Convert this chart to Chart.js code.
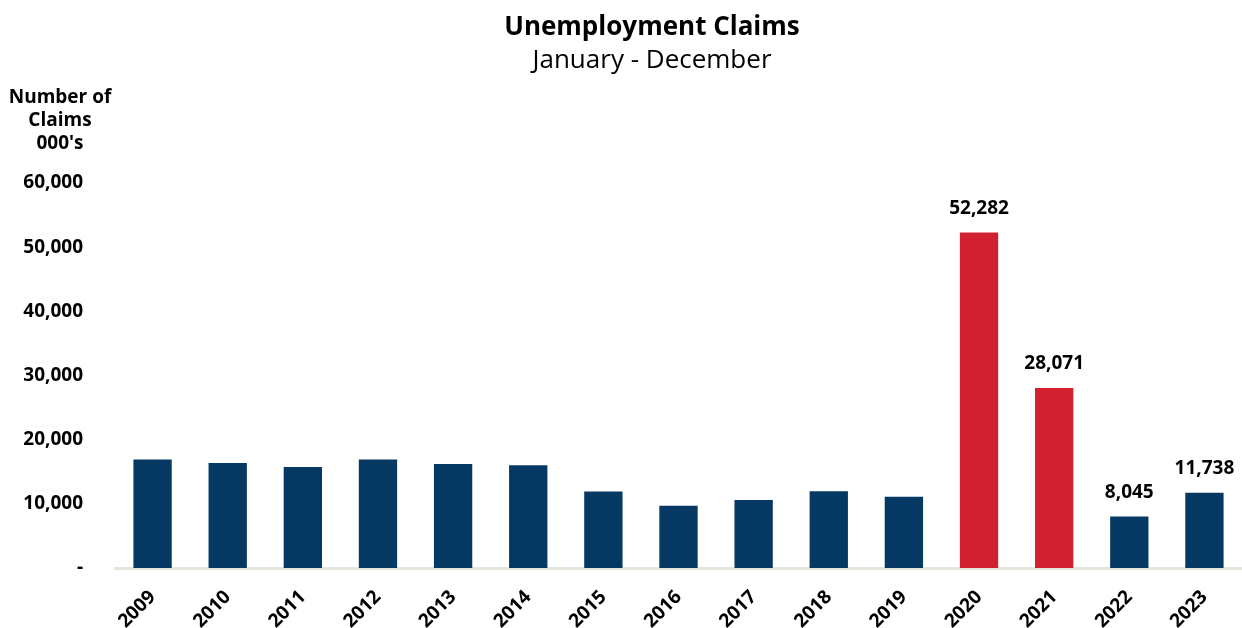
<!DOCTYPE html>
<html lang="en">
<head>
  <meta charset="UTF-8">
  <title>Unemployment Claims</title>
  <script src="https://cdn.jsdelivr.net/npm/chart.js@4.4.0/dist/chart.umd.min.js"></script>
  <style>
    html, body { margin: 0; padding: 0; background: #ffffff; }
    #wrap { width: 1242px; height: 628px; }
  </style>
</head>
<body>
  <div id="wrap">
    <canvas id="claimsChart" width="1242" height="628"></canvas>
  </div>

  <script>
    // Annual claims, thousands
    const years = ['2009', '2010', '2011', '2012', '2013', '2014', '2015', '2016',
                   '2017', '2018', '2019', '2020', '2021', '2022', '2023'];
    const claims = [16900, 16350, 15730, 16900, 16200, 16000, 11930, 9700,
                    10580, 11980, 11100, 52282, 28071, 8045, 11738];
    const redYears = ['2020', '2021'];
    const labelledYears = ['2020', '2021', '2022', '2023'];
    const yTicks = [0, 10000, 20000, 30000, 40000, 50000, 60000];

    const NAVY = '#053863';
    const RED = '#d12131';
    const FONT = '"Open Sans", "Noto Sans", sans-serif';

    const fmt = v => v === 0 ? '-' : v.toLocaleString('en-US');

    // heading, subheading and the stacked axis caption
    const headings = {
      id: 'headings',
      afterDraw(chart) {
        const ctx = chart.ctx;
        ctx.save();
        ctx.fillStyle = '#000';
        ctx.textAlign = 'center';
        ctx.textBaseline = 'middle';
        ctx.font = 'bold 26px ' + FONT;
        ctx.fillText('Unemployment Claims', 652, 28);
        ctx.font = '26px ' + FONT;
        ctx.fillText('January - December', 652, 61);
        ctx.font = 'bold 19px ' + FONT;
        ['Number of', 'Claims', "000's"].forEach((t, i) => ctx.fillText(t, 60, 98 + i * 23));
        ctx.restore();
      }
    };

    // value labels above the recent bars
    const valueLabels = {
      id: 'valueLabels',
      afterDatasetsDraw(chart) {
        const ctx = chart.ctx;
        const meta = chart.getDatasetMeta(0);
        ctx.save();
        ctx.font = 'bold 19px ' + FONT;
        ctx.fillStyle = '#000';
        ctx.textAlign = 'center';
        ctx.textBaseline = 'middle';
        meta.data.forEach((bar, i) => {
          if (!labelledYears.includes(years[i])) return;
          ctx.fillText(fmt(claims[i]), bar.x, bar.y - 24);
        });
        ctx.restore();
      }
    };

    new Chart(document.getElementById('claimsChart'), {
      type: 'bar',
      data: {
        labels: years,
        datasets: [{
          data: claims,
          backgroundColor: years.map(y => redYears.includes(y) ? RED : NAVY),
          barPercentage: 0.51,
          categoryPercentage: 1.0
        }]
      },
      options: {
        responsive: false,
        animation: false,
        devicePixelRatio: 1,
        layout: { padding: { left: 0, right: 0, top: 183, bottom: 0 } },
        plugins: {
          legend: { display: false },
          tooltip: { enabled: false }
        },
        scales: {
          x: {
            grid: { display: false },
            border: { display: true, color: '#e6e6df', width: 3 },
            ticks: {
              color: '#000',
              font: { family: FONT, size: 19, weight: 'bold' },
              minRotation: 45,
              maxRotation: 45,
              padding: 10
            },
            afterFit(scale) { scale.height = 60; }
          },
          y: {
            min: 0,
            max: 60000,
            grid: { display: false },
            border: { display: false },
            afterBuildTicks(scale) { scale.ticks = yTicks.map(v => ({ value: v })); },
            ticks: {
              color: '#000',
              font: { family: FONT, size: 19, weight: 'bold' },
              padding: 24,
              callback: v => fmt(v)
            },
            afterFit(scale) { scale.width = 115; }
          }
        }
      },
      plugins: [headings, valueLabels]
    });
  </script>
</body>
</html>
